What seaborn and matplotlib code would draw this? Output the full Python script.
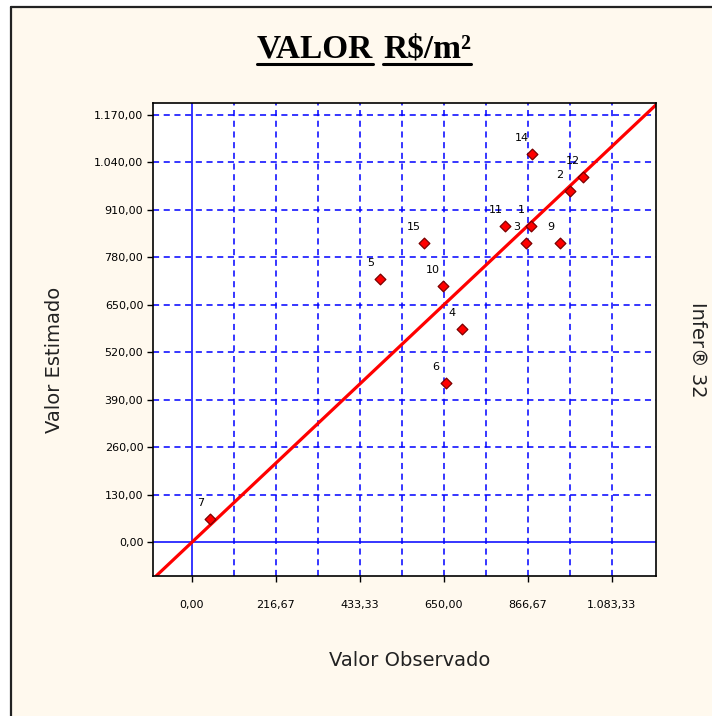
import numpy as np
import pandas as pd
import matplotlib
matplotlib.use('Agg')
import matplotlib.pyplot as plt
import seaborn as sns
from matplotlib.lines import Line2D
from matplotlib.patches import Rectangle
from matplotlib.ticker import FixedLocator, FuncFormatter

# dados (Valor observado x estimado, R$/m²)
labels = ['1', '2', '3', '4', '5', '6', '7', '9', '10', '11', '12', '14', '15']
observado = [875, 975, 862, 696, 486, 655, 48, 950, 647, 808, 1009, 877, 598]
estimado = [866, 960, 818, 583, 720, 437, 64, 820, 701, 866, 999, 1063, 820]

x_ticks = [0, 216.67, 433.33, 650.00, 866.67, 1083.33]
x_grid = [108.33, 216.67, 325.0, 433.33, 541.67, 650.0, 758.33, 866.67, 975.0, 1083.33]
y_ticks = [0, 130, 260, 390, 520, 650, 780, 910, 1040, 1170]

df = pd.DataFrame({'obs': observado, 'est': estimado, 'id': labels})

sns.set_style('white')
plt.rcParams['font.family'] = ['DejaVu Sans']

bg = '#FFF9EE'
fig = plt.figure(figsize=(7.12, 7.16), dpi=100, facecolor='white')

# moldura da janela
fig.patches.append(Rectangle((11 / 712, 0), 1 - 11 / 712, 1 - 7 / 716,
                             transform=fig.transFigure, facecolor=bg,
                             edgecolor='none', zorder=-5))
fig.lines.append(Line2D([11 / 712, 11 / 712], [0, 1 - 7 / 716], transform=fig.transFigure,
                        color='#222222', lw=1.6, zorder=-4))
fig.lines.append(Line2D([11 / 712, 1], [1 - 7 / 716, 1 - 7 / 716], transform=fig.transFigure,
                        color='#222222', lw=1.6, zorder=-4))

ax = fig.add_axes([153 / 712, 1 - 576 / 716, 503 / 712, 473 / 716])
ax.set_zorder(2)
ax.set_facecolor('white')

# grade tracejada azul
for gx in x_grid:
    ax.axvline(gx, color='#0000FF', lw=1.1, ls=(0, (4, 3)), zorder=1)
for gy in y_ticks[1:]:
    ax.axhline(gy, color='#0000FF', lw=1.1, ls=(0, (4, 3)), zorder=1)
ax.axvline(0, color='#0000FF', lw=1.1, zorder=1)
ax.axhline(0, color='#0000FF', lw=1.1, zorder=1)

# reta de referência y = x
ax.axline((0, 0), slope=1, color='#FF0000', lw=2.3, zorder=2)

sns.scatterplot(data=df, x='obs', y='est', ax=ax, marker='D', s=30,
                color='#FF0000', edgecolor='#7A0000', linewidth=0.9, zorder=3, legend=False)

for _, r in df.iterrows():
    ax.annotate(r['id'], (r['obs'], r['est']), xytext=(-7, 8), textcoords='offset points',
                ha='center', va='bottom', fontsize=8, color='black', zorder=4)

ax.set_xlim(-100, 1197)
ax.set_ylim(-92, 1202)


def br_fmt(v, pos=None):
    s = f'{v:,.2f}'
    return s.replace(',', 'X').replace('.', ',').replace('X', '.')


ax.xaxis.set_major_locator(FixedLocator(x_ticks))
ax.yaxis.set_major_locator(FixedLocator(y_ticks))
ax.xaxis.set_major_formatter(FuncFormatter(br_fmt))
ax.yaxis.set_major_formatter(FuncFormatter(br_fmt))
ax.tick_params(axis='x', length=4, width=1, color='black', labelcolor='black', pad=13,
               labelsize=8, direction='out', bottom=True)
ax.tick_params(axis='y', length=4, width=1, color='black', labelcolor='black', pad=3,
               labelsize=8, direction='out', left=True)

for sp in ax.spines.values():
    sp.set_color('black')
    sp.set_linewidth(1.2)

ax.set_xlabel('')
ax.set_ylabel('')
fig.text(410 / 712, 1 - 660 / 716, 'Valor Observado', ha='center', va='center', fontsize=14, color='#222222')
fig.text(55 / 712, 1 - 360 / 716, 'Valor Estimado', ha='center', va='center', rotation=90,
         fontsize=14, color='#222222')
fig.text(697 / 712, 1 - 350 / 716, 'Infer® 32', ha='center', va='center', rotation=-90,
         fontsize=14, color='#222222')

# título sublinhado em duas partes
t1 = fig.text(373 / 712, 1 - 58 / 716, 'VALOR', ha='right', va='baseline', fontsize=24,
              fontweight='bold', family='Liberation Serif', color='black')
t2 = fig.text(383 / 712, 1 - 58 / 716, 'R$/m²', ha='left', va='baseline', fontsize=24,
              fontweight='bold', family='Liberation Serif', color='black')
fig.canvas.draw()
inv = fig.transFigure.inverted()
for t in (t1, t2):
    bb = t.get_window_extent().transformed(inv)
    uy = 1 - 64 / 716
    fig.lines.append(Line2D([bb.x0, bb.x1], [uy, uy], transform=fig.transFigure,
                            color='black', lw=2.2))

fig.savefig('out.png', dpi=100, facecolor='white')
